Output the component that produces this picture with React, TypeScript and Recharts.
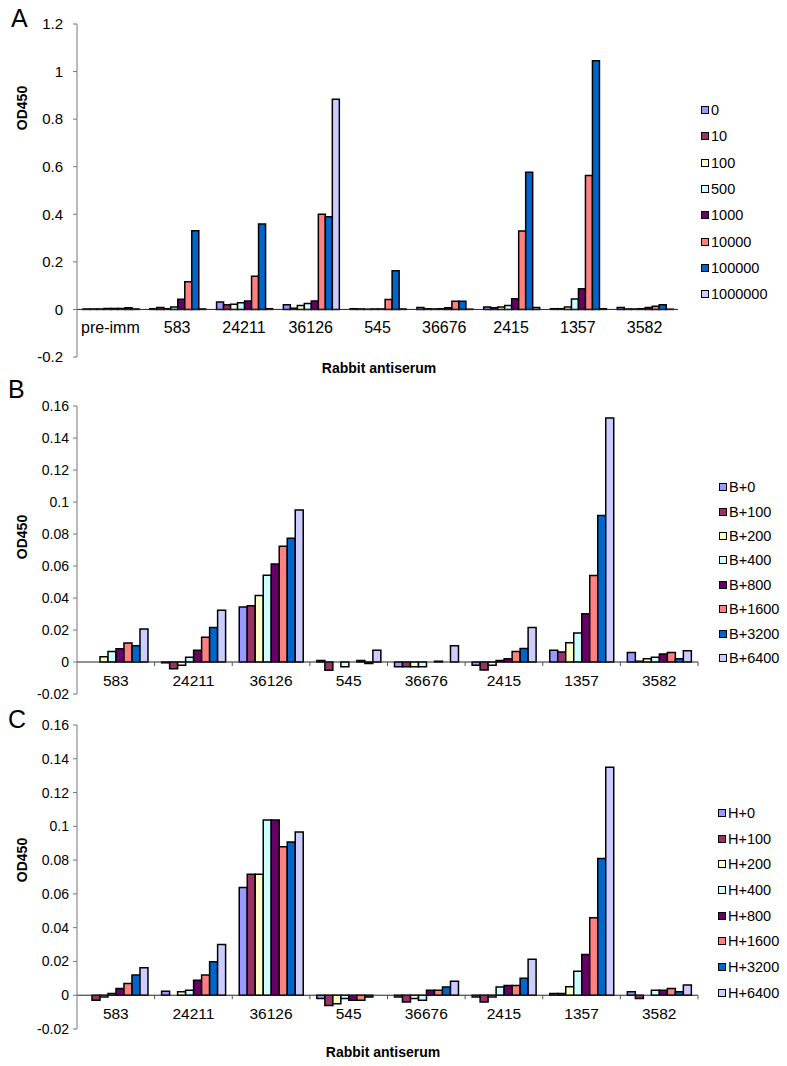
import React from 'react';
import { BarChart, Bar, XAxis, YAxis, ReferenceLine, Legend } from 'recharts';

const FONT = '"Liberation Sans", Arial, Helvetica, sans-serif';

// ---------- categories / series names / tick labels ----------
const categoriesA = ['pre-imm', '583', '24211', '36126', '545', '36676', '2415', '1357', '3582'];
const categoriesBC = ['583', '24211', '36126', '545', '36676', '2415', '1357', '3582'];

const seriesA = ['0', '10', '100', '500', '1000', '10000', '100000', '1000000'];
const seriesB = ['B+0', 'B+100', 'B+200', 'B+400', 'B+800', 'B+1600', 'B+3200', 'B+6400'];
const seriesC = ['H+0', 'H+100', 'H+200', 'H+400', 'H+800', 'H+1600', 'H+3200', 'H+6400'];

const colors = ['#9999FF', '#993366', '#FFFFCC', '#CCFFFF', '#660066', '#FF8080', '#0066CC', '#CCCCFF'];

const ticksA = [-0.2, 0, 0.2, 0.4, 0.6, 0.8, 1, 1.2];
const ticksBC = [-0.02, 0, 0.02, 0.04, 0.06, 0.08, 0.1, 0.12, 0.14, 0.16];

// ---------- Panel A values (one array per dilution, across categoriesA) ----------
const a0 = [0.002, 0.003, 0.031, 0.02, 0.003, 0.008, 0.01, 0.003, 0.008];
const a10 = [0.002, 0.008, 0.02, 0.005, 0.002, 0.003, 0.007, 0.003, 0.002];
const a100 = [0.002, 0.003, 0.022, 0.017, 0.001, 0.002, 0.01, 0.01, 0.002];
const a500 = [0.004, 0.01, 0.028, 0.025, 0.002, 0.003, 0.016, 0.044, 0.003];
const a1000 = [0.004, 0.043, 0.035, 0.035, 0.002, 0.007, 0.045, 0.087, 0.008];
const a10000 = [0.004, 0.116, 0.139, 0.4, 0.042, 0.034, 0.33, 0.563, 0.013];
const a100000 = [0.007, 0.331, 0.359, 0.39, 0.163, 0.034, 0.577, 1.046, 0.02];
const a1000000 = [0.002, 0.002, 0.003, 0.884, 0.002, 0.001, 0.008, 0.003, 0.001];

// ---------- Panel B values (across categoriesBC) ----------
const b0 = [0, -0.0005, 0.0344, 0.001, -0.003, -0.002, 0.0073, 0.006];
const b100 = [0, -0.0042, 0.0352, -0.0052, -0.003, -0.005, 0.0063, 0.0005];
const b200 = [0.0033, -0.002, 0.0415, 0, -0.003, -0.002, 0.0121, 0.002];
const b400 = [0.0065, 0.003, 0.0542, -0.003, -0.003, 0.001, 0.0181, 0.003];
const b800 = [0.0083, 0.0073, 0.0613, 0, 0, 0.002, 0.0302, 0.005];
const b1600 = [0.0119, 0.0154, 0.0723, 0.001, 0.0005, 0.0065, 0.054, 0.006];
const b3200 = [0.0102, 0.0215, 0.0773, -0.001, 0, 0.0085, 0.0915, 0.002];
const b6400 = [0.0206, 0.0323, 0.095, 0.0073, 0.0102, 0.0215, 0.1525, 0.007];

// ---------- Panel C values (across categoriesBC) ----------
const h0 = [0, 0.0024, 0.0638, -0.002, -0.001, -0.001, 0.001, 0.002];
const h100 = [-0.003, 0, 0.0717, -0.0061, -0.004, -0.004, 0.001, -0.002];
const h200 = [-0.001, 0.002, 0.0717, -0.005, -0.002, -0.001, 0.005, 0];
const h400 = [0.001, 0.003, 0.1037, -0.002, -0.003, 0.0049, 0.0142, 0.003];
const h800 = [0.004, 0.0089, 0.1037, -0.003, 0.003, 0.0057, 0.0241, 0.003];
const h1600 = [0.0069, 0.0119, 0.0879, -0.003, 0.003, 0.0057, 0.0458, 0.004];
const h3200 = [0.0119, 0.0198, 0.0907, -0.001, 0.0049, 0.0101, 0.081, 0.002];
const h6400 = [0.0162, 0.03, 0.0966, 0, 0.0083, 0.0213, 0.135, 0.006];

const valuesA = [a0, a10, a100, a500, a1000, a10000, a100000, a1000000];
const valuesB = [b0, b100, b200, b400, b800, b1600, b3200, b6400];
const valuesC = [h0, h100, h200, h400, h800, h1600, h3200, h6400];

function buildRows(cats: string[], names: string[], values: number[][]) {
  return cats.map((c, i) => {
    const row: Record<string, any> = { cat: c };
    names.forEach((n, k) => {
      row[n] = values[k][i];
    });
    return row;
  });
}

type PanelProps = {
  top: number;
  width: number;
  height: number;
  margin: { top: number; right: number; bottom: number; left: number };
  yAxisWidth: number;
  xAxisHeight: number;
  cats: string[];
  names: string[];
  values: number[][];
  ticks: number[];
  catFont: number;
  yFont: number;
  yTickMargin: number;
  tickMarks: boolean;
  legendLeft: number;
  legendTop: number;
  legendSpacing: number;
};

function Panel(p: PanelProps) {
  const rows = buildRows(p.cats, p.names, p.values);
  const min = p.ticks[0];
  const max = p.ticks[p.ticks.length - 1];
  const plotTop = p.margin.top;
  const plotBottom = p.height - p.margin.bottom - p.xAxisHeight;
  const zeroY = plotTop + ((plotBottom - plotTop) * (max - 0)) / (max - min);
  const plotW = p.width - p.margin.left - p.margin.right - p.yAxisWidth;
  const catW = plotW / p.cats.length;

  const renderTick = (tp: any) => {
    const x = tp.x;
    return (
      <g>
        <text
          x={x}
          y={zeroY + 24}
          textAnchor="middle"
          fontSize={p.catFont}
          fontFamily={FONT}
          fill="#000"
        >
          {tp.payload.value}
        </text>
        {p.tickMarks ? (
          <line x1={x + catW / 2} x2={x + catW / 2} y1={zeroY} y2={zeroY + 4} stroke="#555" strokeWidth={1} />
        ) : null}
      </g>
    );
  };

  const renderLegend = () => (
    <div style={{ fontFamily: FONT, fontSize: 14.5, color: '#000' }}>
      {p.names.map((n, k) => (
        <div key={n} style={{ height: p.legendSpacing, display: 'flex', alignItems: 'center' }}>
          <span
            style={{
              display: 'inline-block',
              width: 6,
              height: 6,
              border: '1.5px solid #000',
              background: colors[k],
              marginRight: 2,
            }}
          />
          <span>{n}</span>
        </div>
      ))}
    </div>
  );

  return (
    <div style={{ position: 'absolute', left: 0, top: p.top }}>
      <BarChart
        width={p.width}
        height={p.height}
        data={rows}
        margin={p.margin}
        barCategoryGap="9%"
        barGap={0}
      >
        <XAxis
          dataKey="cat"
          height={p.xAxisHeight}
          axisLine={false}
          tickLine={false}
          tickSize={0}
          tickMargin={0}
          interval={0}
          tick={renderTick}
        />
        <YAxis
          width={p.yAxisWidth}
          domain={[min, max]}
          ticks={p.ticks}
          interval={0}
          allowDataOverflow
          axisLine={{ stroke: '#777', strokeWidth: 1 }}
          tickLine={{ stroke: '#777', strokeWidth: 1 }}
          tickSize={4}
          tickMargin={p.yTickMargin}
          tick={{ fontSize: p.yFont, fontFamily: FONT, fill: '#000' }}
        />
        <ReferenceLine y={0} stroke="#222" strokeWidth={1} ifOverflow="extendDomain" />
        {p.names.map((n, k) => (
          <Bar
            key={n}
            dataKey={n}
            name={n}
            fill={colors[k]}
            stroke="#000"
            strokeWidth={1.5}
            isAnimationActive={false}
          />
        ))}
        <Legend
          layout="vertical"
          align="center"
          verticalAlign="middle"
          wrapperStyle={{ left: p.legendLeft, top: p.legendTop, width: 90 }}
          content={renderLegend}
        />
      </BarChart>
    </div>
  );
}

export default function App() {
  return (
    <div
      style={{
        position: 'absolute',
        left: 0,
        top: 0,
        width: 787,
        height: 1066,
        background: '#fff',
        overflow: 'hidden',
        fontFamily: FONT,
      }}
    >
      <Panel
        top={0}
        width={787}
        height={380}
        margin={{ top: 24, right: 109, bottom: 3, left: 0 }}
        yAxisWidth={77}
        xAxisHeight={20}
        cats={categoriesA}
        names={seriesA}
        values={valuesA}
        ticks={ticksA}
        catFont={16}
        yFont={15}
        yTickMargin={10}
        tickMarks={false}
        legendLeft={701}
        legendTop={97}
        legendSpacing={26.3}
      />
      <Panel
        top={375}
        width={787}
        height={335}
        margin={{ top: 31, right: 89, bottom: 2, left: 0 }}
        yAxisWidth={77}
        xAxisHeight={14}
        cats={categoriesBC}
        names={seriesB}
        values={valuesB}
        ticks={ticksBC}
        catFont={15.5}
        yFont={14}
        yTickMargin={4}
        tickMarks={true}
        legendLeft={719}
        legendTop={100}
        legendSpacing={24.4}
      />
      <Panel
        top={710}
        width={787}
        height={356}
        margin={{ top: 15, right: 89, bottom: 17, left: 0 }}
        yAxisWidth={77}
        xAxisHeight={20}
        cats={categoriesBC}
        names={seriesC}
        values={valuesC}
        ticks={ticksBC}
        catFont={15.5}
        yFont={14}
        yTickMargin={4}
        tickMarks={true}
        legendLeft={718}
        legendTop={90}
        legendSpacing={25.7}
      />
      <svg
        width={787}
        height={1066}
        style={{ position: 'absolute', left: 0, top: 0, pointerEvents: 'none' }}
      >
        <g fontFamily={FONT} fill="#000">
          <text x={11} y={27} fontSize={25}>A</text>
          <text x={8} y={398} fontSize={25}>B</text>
          <text x={8} y={728} fontSize={25}>C</text>
          <text x={27} y={108} fontSize={14} fontWeight="bold" textAnchor="middle" transform="rotate(-90 27 108)">OD450</text>
          <text x={27} y={537} fontSize={14} fontWeight="bold" textAnchor="middle" transform="rotate(-90 27 537)">OD450</text>
          <text x={27} y={860} fontSize={14} fontWeight="bold" textAnchor="middle" transform="rotate(-90 27 860)">OD450</text>
          <text x={379} y={373} fontSize={14} fontWeight="bold" textAnchor="middle">Rabbit antiserum</text>
          <text x={383} y={1057} fontSize={14} fontWeight="bold" textAnchor="middle">Rabbit antiserum</text>
        </g>
      </svg>
    </div>
  );
}
